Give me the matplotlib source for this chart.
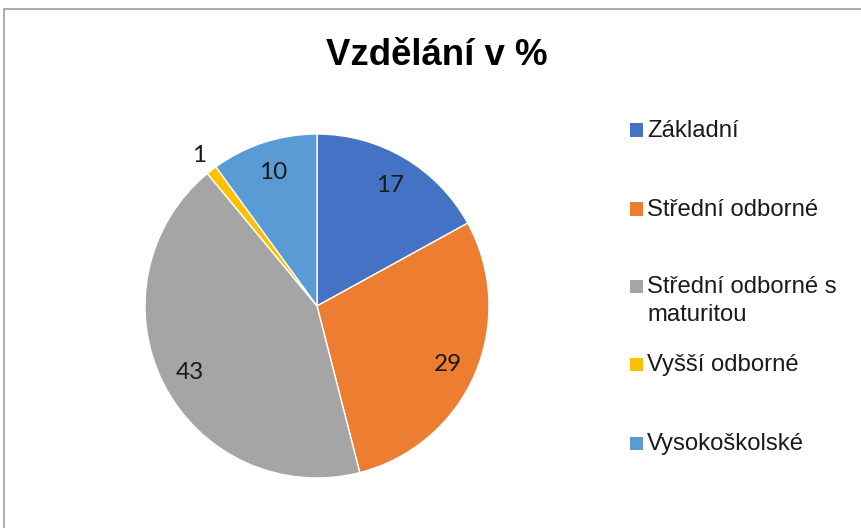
import matplotlib
matplotlib.use("Agg")
import matplotlib.pyplot as plt
from matplotlib.patches import Rectangle
from matplotlib.transforms import offset_copy
import numpy as np

plt.rcParams['font.family'] = ['Liberation Sans', 'DejaVu Sans']

categories = ["Základní", "Střední odborné", "Střední odborné s\nmaturitou", "Vyšší odborné", "Vysokoškolské"]
values = [17, 29, 43, 1, 10]
colors = ["#4472C4", "#ED7D31", "#A5A5A5", "#FFC000", "#5B9BD5"]
title = "Vzdělání v %"

W, H = 861, 528
fig = plt.figure(figsize=(W / 100, H / 100), dpi=100)

# chart border (extends beyond right/bottom edges)
fig.patches.append(Rectangle((4 / W, -0.1), 1.2, (H - 9) / H + 0.1, transform=fig.transFigure,
                             fill=False, edgecolor="#9E9E9E", linewidth=1.2))

cx, cy, r = 317, 306, 172
ax = fig.add_axes([(cx - r) / W, (H - cy - r) / H, 2 * r / W, 2 * r / H])
wedges, _ = ax.pie(values, colors=colors, startangle=90, counterclock=False,
                   wedgeprops=dict(edgecolor="white", linewidth=1), radius=1)
ax.set_xlim(-1, 1)
ax.set_ylim(-1, 1)
ax.set_aspect('equal')

# labels: baseline placed half a digit-height below the anchor point
trans = offset_copy(ax.transData, fig=fig, x=0, y=-8.5, units='dots')
total = sum(values)
cum = 0
for v in values:
    mid = 90 - (cum + v / 2) / total * 360
    cum += v
    d = 0.83 if v >= 5 else 1.12
    ax.text(d * np.cos(np.radians(mid)), d * np.sin(np.radians(mid)), str(v),
            ha='center', va='baseline', fontsize=17.5, color='#1a1a1a',
            family=['Lato', 'Liberation Sans'], transform=trans)

fig.text(437 / W, 1 - 65 / H, title, ha='center', va='baseline', fontsize=26.4,
         fontweight='bold', color='black')

# legend
marker_y = [130, 209, 286, 364, 443]
for lab, col, my in zip(categories, colors, marker_y):
    fig.patches.append(Rectangle((630 / W, 1 - (my + 6.5) / H), 13 / W, 13 / H,
                                 transform=fig.transFigure, facecolor=col, edgecolor='none'))
    for k, line in enumerate(lab.split("\n")):
        fig.text(647 / W, 1 - (my + 7 + 28 * k) / H, line, ha='left', va='baseline',
                 fontsize=17.2, color='#1a1a1a')

fig.savefig("out.png", dpi=100, facecolor="white")
